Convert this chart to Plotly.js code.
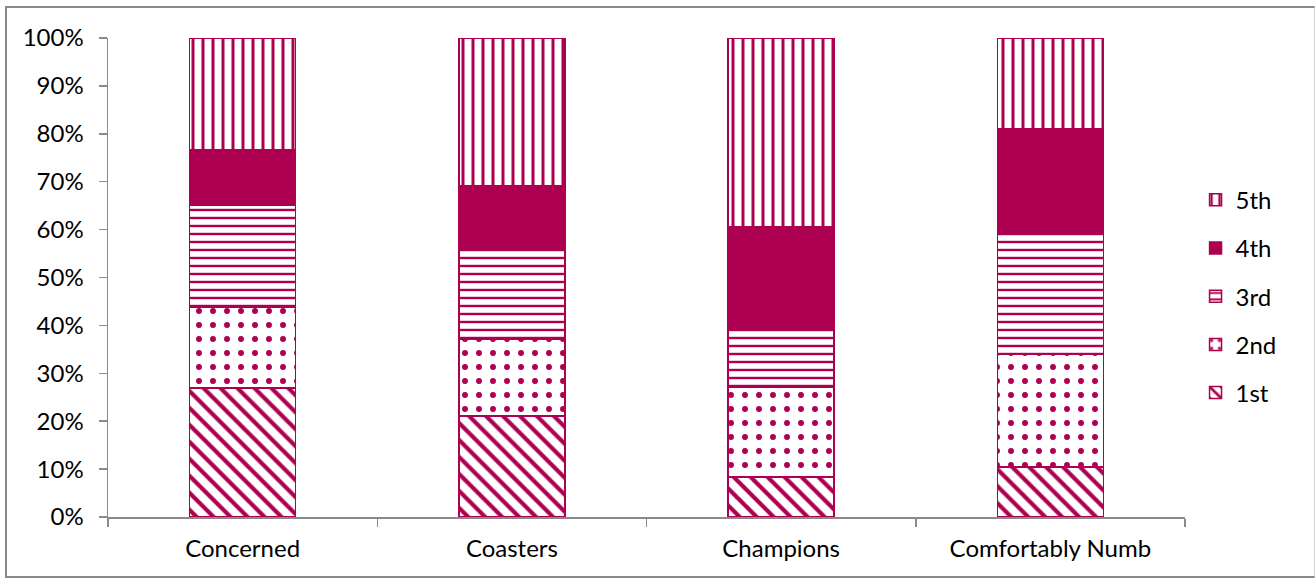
<!DOCTYPE html>
<html>
<head>
<meta charset="utf-8">
<script src="https://cdn.plot.ly/plotly-3.0.1.min.js"></script>
<style>
html,body{margin:0;padding:0;background:#fff;}
#wrap{position:relative;width:1316px;height:581px;}
#chart{position:absolute;left:0;top:0;width:1316px;height:581px;}
#frame{position:absolute;left:5px;top:6px;width:1310px;height:572px;border:2px solid #8a8a8a;border-right:1px solid #d0d0d0;border-bottom:2px solid #8a8a8a;box-sizing:border-box;pointer-events:none;}
</style>
</head>
<body>
<div id="wrap"><div id="chart"></div><div id="frame"></div></div>
<script>
const categories = ["Concerned", "Coasters", "Champions", "Comfortably Numb"];
const seriesNames = ["1st", "2nd", "3rd", "4th", "5th"];
const first  = [0.269, 0.211, 0.084, 0.104];
const second = [0.169, 0.161, 0.187, 0.236];
const third  = [0.213, 0.185, 0.124, 0.253];
const fourth = [0.115, 0.134, 0.210, 0.217];
const fifth  = [0.234, 0.309, 0.395, 0.190];
const seriesValues = [first, second, third, fourth, fifth];
const patternShapes = ["\\", ".", "-", "", "|"];
const patternSizes = [12, 14, 8, 0, 10];
const patternSolidity = [0.35, 0.14, 0.3, 0, 0.3];
const color = "#AD0050";

const traces = seriesValues.map((vals, i) => {
  const marker = {
    color: patternShapes[i] === "" ? color : "#ffffff",
    line: {color: color, width: 1.5}
  };
  if (patternShapes[i] !== "") {
    marker.pattern = {shape: patternShapes[i], fgcolor: color, bgcolor: "#ffffff",
      fillmode: "replace", size: patternSizes[i], solidity: patternSolidity[i]};
  }
  return {
    type: "bar", name: seriesNames[i], x: categories, y: vals,
    marker: marker, legendgroup: seriesNames[i], legendrank: 100 - i, hoverinfo: "skip"
  };
});

const layout = {
  width: 1316, height: 581,
  barmode: "stack", bargap: 0.606,
  margin: {l: 108, r: 131, t: 38, b: 64},
  paper_bgcolor: "#ffffff", plot_bgcolor: "#ffffff",
  font: {family: "Lato, 'Open Sans', sans-serif", size: 24, color: "#000"},
  xaxis: {
    showline: true, linecolor: "#8a8a8a", linewidth: 1.5,
    ticks: "outside", tickson: "boundaries", ticklen: 8, tickcolor: "#8a8a8a", tickwidth: 1.5,
    showgrid: false, tickfont: {size: 24}, fixedrange: true, ticklabelstandoff: 10
  },
  yaxis: {
    range: [0, 1], dtick: 0.1, tickformat: ".0%",
    showline: true, linecolor: "#8a8a8a", linewidth: 1.5,
    ticks: "outside", ticklen: 8, tickcolor: "#8a8a8a", tickwidth: 1.5,
    showgrid: false, zeroline: false, tickfont: {size: 24}, fixedrange: true, ticklabelstandoff: 10
  },
  legend: {
    x: 1.0098, xanchor: "left", y: 0.461, yanchor: "middle",
    traceorder: "grouped", tracegroupgap: 14,
    font: {size: 24}, itemwidth: 30
  },
  showlegend: true
};

Plotly.newPlot("chart", traces, layout, {displayModeBar: false, staticPlot: true});
</script>
</body>
</html>
